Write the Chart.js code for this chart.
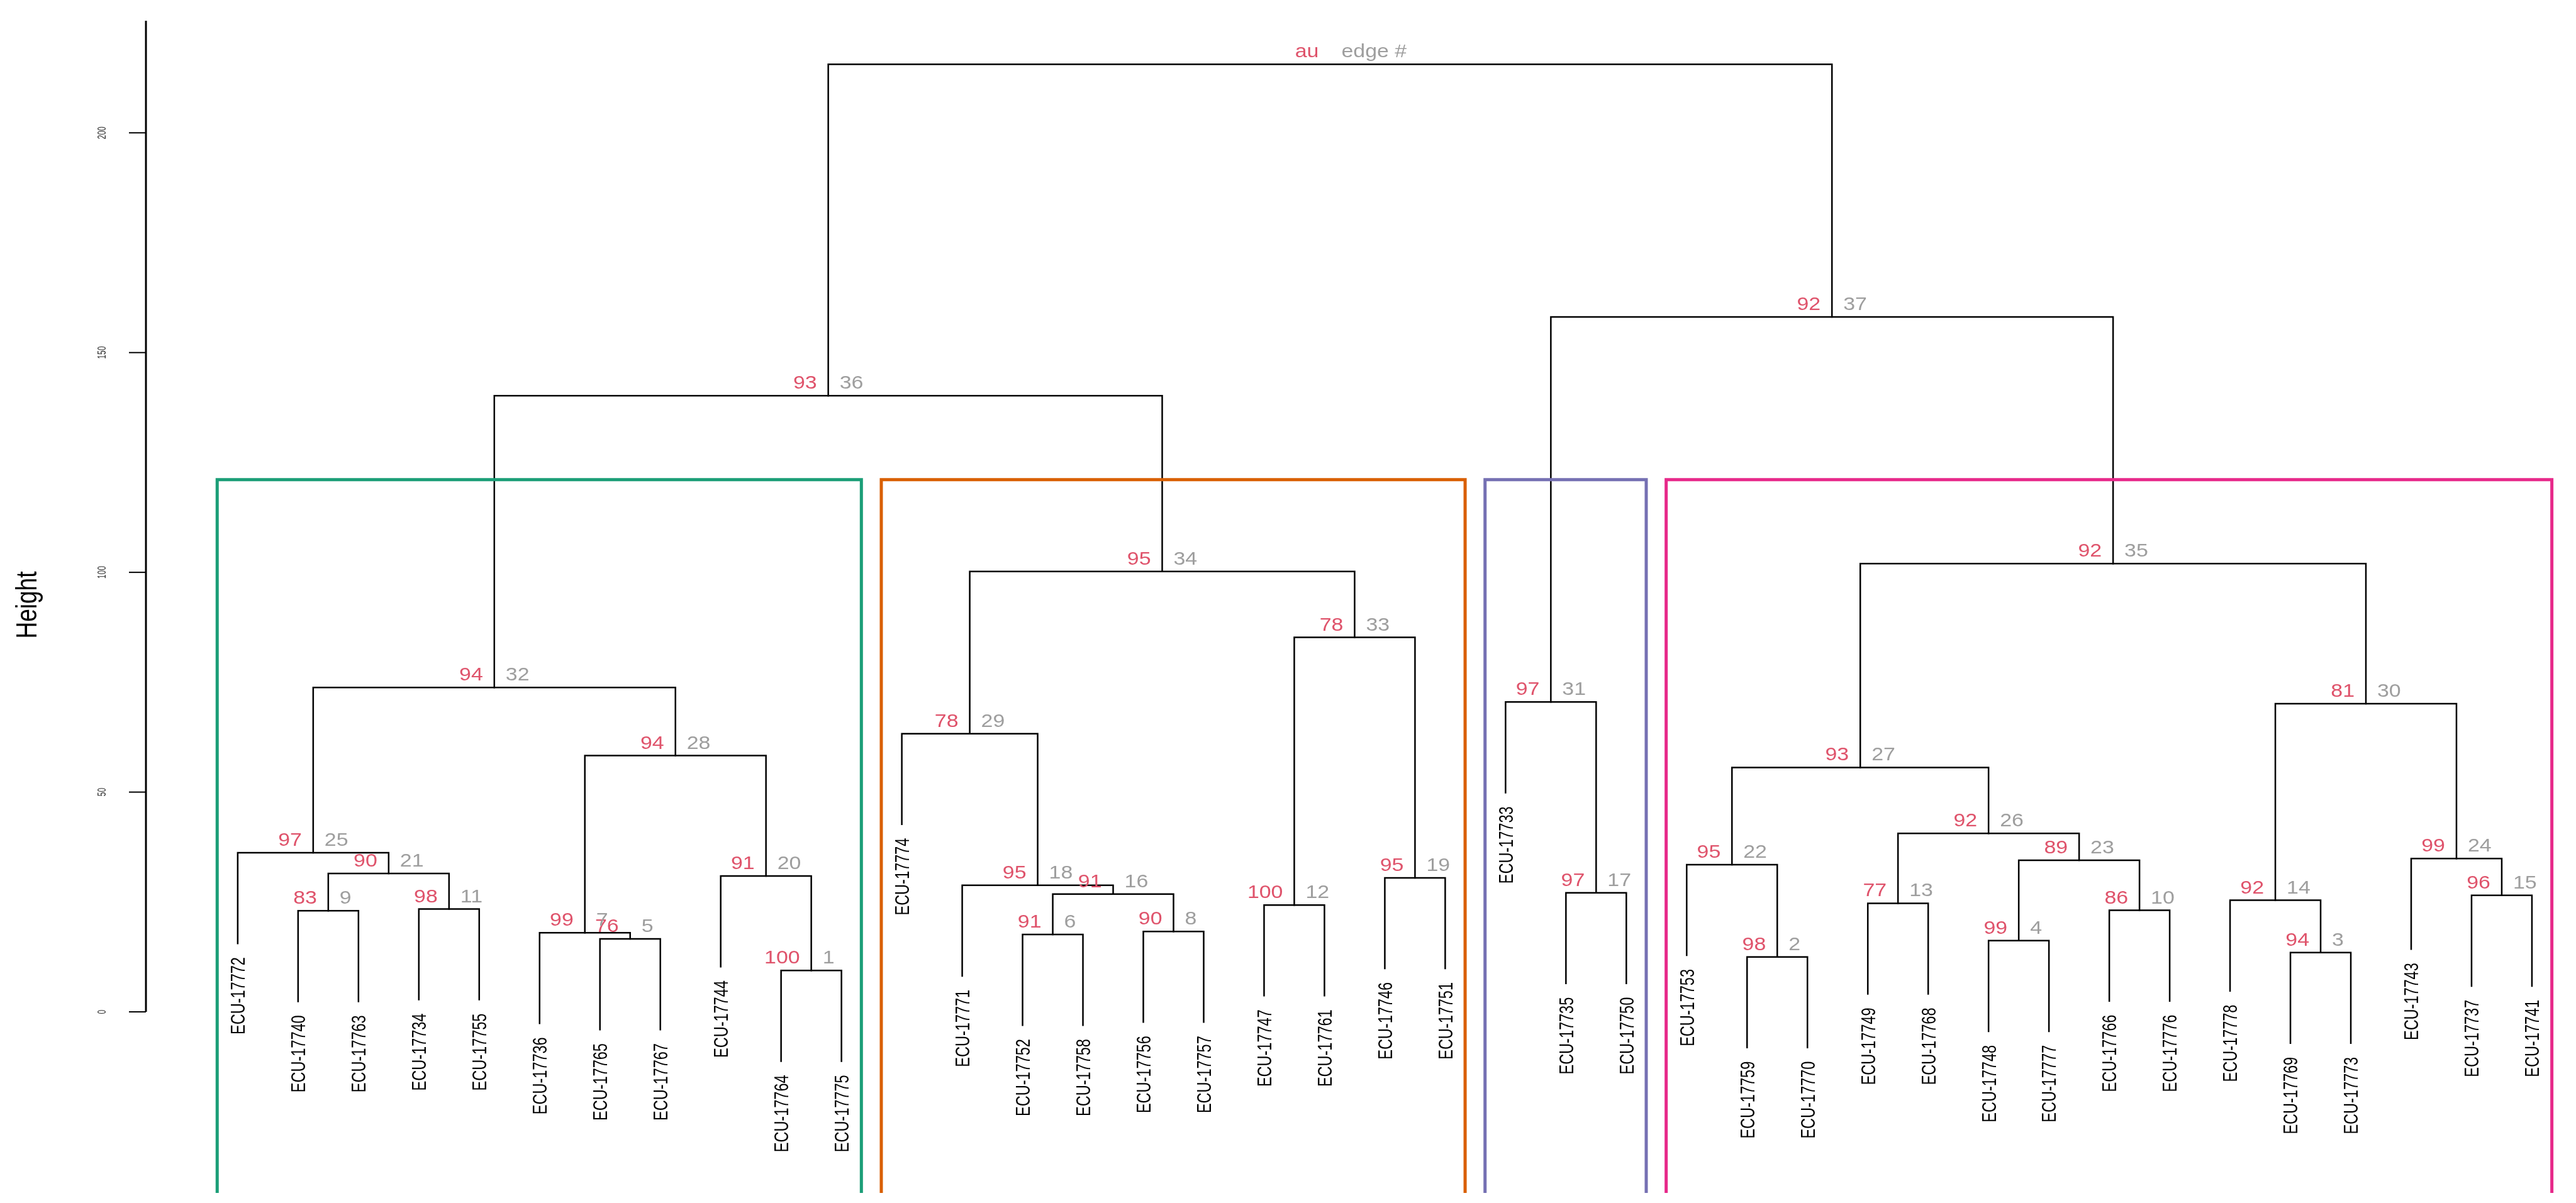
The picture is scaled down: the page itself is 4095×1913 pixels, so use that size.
<!DOCTYPE html>
<html>
<head>
<meta charset="utf-8">
<title>pvclust dendrogram</title>
<script src="https://cdn.jsdelivr.net/npm/chart.js@4.4.1/dist/chart.umd.min.js"></script>
<style>
  html, body { margin: 0; padding: 0; background: #ffffff; }
  #wrap { width: 4095px; height: 1913px; }
</style>
</head>
<body>
<div id="wrap"><canvas id="dendro" width="4095" height="1913"></canvas></div>
<script>
// ---- data: leaves in plotting order ----
const leafLabels = [
  'ECU-17772', 'ECU-17740', 'ECU-17763', 'ECU-17734', 'ECU-17755', 'ECU-17736', 'ECU-17765', 'ECU-17767',
  'ECU-17744', 'ECU-17764', 'ECU-17775', 'ECU-17774', 'ECU-17771', 'ECU-17752', 'ECU-17758', 'ECU-17756',
  'ECU-17757', 'ECU-17747', 'ECU-17761', 'ECU-17746', 'ECU-17751', 'ECU-17733', 'ECU-17735', 'ECU-17750',
  'ECU-17753', 'ECU-17759', 'ECU-17770', 'ECU-17749', 'ECU-17768', 'ECU-17748', 'ECU-17777', 'ECU-17766',
  'ECU-17776', 'ECU-17778', 'ECU-17769', 'ECU-17773', 'ECU-17743', 'ECU-17737', 'ECU-17741'
];

// merges (hclust style): negative = leaf position, positive = earlier merge / edge #
const mergeA = [-10, -26, -35, -30, -7, -14, -6, -16, -2, -32, -4, -18, -28, -34, -38, 6, -23, -13, -20,
  -9, 9, -25, 4, -37, -1, 13, 22, 7, -12, 14, -22, 25, 12, 29, 27, 32, 31, 36];
const mergeB = [-11, -27, -36, -31, -8, -15, 5, -17, -3, -33, -5, -19, -29, 3, -39, 8, -24, 16, -21,
  1, 11, 2, 10, 15, 21, 23, 26, 20, 18, 24, 17, 28, 19, 33, 30, 34, 35, 37];
const mergeHeight = [9.4, 12.5, 13.5, 16.2, 16.6, 17.6, 18.0, 18.3, 23.0, 23.1, 23.4, 24.3, 24.7, 25.4,
  26.5, 26.8, 27.1, 28.8, 30.5, 30.9, 31.5, 33.5, 34.5, 34.9, 36.2, 40.6, 55.6, 58.3, 63.3, 70.1, 70.5,
  73.8, 85.2, 100.2, 102.0, 140.2, 158.1, 215.6];
// AU p-values for edges 1..37 (root has none)
const auValues = [100, 98, 94, 99, 76, 91, 99, 90, 83, 86, 98, 100, 77, 92, 96, 91, 97, 95, 95, 91, 90,
  95, 89, 99, 97, 92, 93, 94, 78, 81, 97, 94, 78, 95, 92, 93, 92];
const yTicks = [0, 50, 100, 150, 200];
const clusterColors = ['#1B9E77', '#D95F02', '#7570B3', '#E7298A'];
const nClusters = clusterColors.length;

const AU_COL = '#DF536B';
const EDGE_COL = '#9E9E9E';
const FONT = '"Liberation Sans", Arial, sans-serif';

// ---- tree geometry in data units ----
const nMerge = mergeHeight.length;
const hang = 0.1 * (Math.max(...mergeHeight) - Math.min(...mergeHeight));
const nodeX = [];
const childX = c => (c < 0 ? -c : nodeX[c - 1]);
for (let i = 0; i < nMerge; i++) {
  nodeX[i] = (childX(mergeA[i]) + childX(mergeB[i])) / 2;
}
const leafEnd = [];
const treeSets = [];
for (let i = 0; i < nMerge; i++) {
  const h = mergeHeight[i];
  const yOf = c => {
    if (c < 0) { leafEnd[-c - 1] = h - hang; return h - hang; }
    return mergeHeight[c - 1];
  };
  const xa = childX(mergeA[i]), xb = childX(mergeB[i]);
  treeSets.push({
    data: [{ x: xa, y: yOf(mergeA[i]) }, { x: xa, y: h }, { x: xb, y: h }, { x: xb, y: yOf(mergeB[i]) }],
    borderColor: '#000000', borderWidth: 2.5, order: 1
  });
}

// ---- k = 4 cluster rectangles (like rect.hclust) ----
function leavesOf(c) {
  if (c < 0) return [-c];
  return leavesOf(mergeA[c - 1]).concat(leavesOf(mergeB[c - 1]));
}
let groups = [nMerge];
while (groups.length < nClusters) {
  const top = Math.max(...groups);
  const idx = groups.indexOf(top);
  groups.splice(idx, 1, mergeA[top - 1], mergeB[top - 1]);
}
const sortedH = mergeHeight.slice().sort((a, b) => b - a);
const rectTop = (sortedH[nClusters - 2] + sortedH[nClusters - 1]) / 2;
const Y_MIN = -41.2, Y_MAX = 225.5, X_MIN = -0.52, X_MAX = 39.73;
const rectSets = groups.map((g, n) => {
  const lv = leavesOf(g);
  const left = Math.min(...lv) - 1 + 0.66;
  const right = Math.max(...lv) + 0.33;
  return {
    data: [{ x: left, y: Y_MIN }, { x: left, y: rectTop }, { x: right, y: rectTop }, { x: right, y: Y_MIN }],
    borderColor: clusterColors[n], borderWidth: 5, order: 0
  };
});

// ---- text / axis plugin ----
const labelPlugin = {
  id: 'dendroLabels',
  afterDatasetsDraw(chart) {
    const ctx = chart.ctx;
    const xs = chart.scales.x, ys = chart.scales.y;
    const area = chart.chartArea;

    // y axis
    ctx.save();
    ctx.strokeStyle = '#000';
    ctx.lineWidth = 3;
    ctx.beginPath();
    ctx.moveTo(area.left, ys.getPixelForValue(0));
    ctx.lineTo(area.left, ys.getPixelForValue(Y_MAX));
    ctx.stroke();
    ctx.lineWidth = 2;
    yTicks.forEach(t => {
      const py = ys.getPixelForValue(t);
      ctx.beginPath();
      ctx.moveTo(area.left - 27, py);
      ctx.lineTo(area.left, py);
      ctx.stroke();
      ctx.save();
      ctx.translate(168, py);
      ctx.rotate(-Math.PI / 2);
      ctx.scale(1, 1.6);
      ctx.fillStyle = '#333';
      ctx.font = '12px ' + FONT;
      ctx.textAlign = 'center';
      ctx.textBaseline = 'alphabetic';
      ctx.fillText(String(t), 0, 0);
      ctx.restore();
    });
    // axis title
    ctx.save();
    ctx.translate(58, 962);
    ctx.rotate(-Math.PI / 2);
    ctx.scale(1, 1.24);
    ctx.fillStyle = '#000';
    ctx.font = '37px ' + FONT;
    ctx.textAlign = 'center';
    ctx.textBaseline = 'alphabetic';
    ctx.fillText('Height', 0, 0);
    ctx.restore();
    ctx.restore();

    // leaf labels
    ctx.save();
    ctx.fillStyle = '#000';
    ctx.font = '23.5px ' + FONT;
    leafLabels.forEach((lab, i) => {
      const px = xs.getPixelForValue(i + 1);
      const py = ys.getPixelForValue(leafEnd[i]) + 22;
      ctx.save();
      ctx.translate(px, py);
      ctx.rotate(-Math.PI / 2);
      ctx.scale(1, 1.35);
      ctx.textAlign = 'right';
      ctx.textBaseline = 'alphabetic';
      ctx.fillText(lab, 0, 8.4);
      ctx.restore();
    });
    ctx.restore();

    // au / edge # labels
    ctx.save();
    ctx.font = '30px ' + FONT;
    ctx.textBaseline = 'alphabetic';
    for (let i = 0; i < nMerge; i++) {
      const px = xs.getPixelForValue(nodeX[i]);
      const py = ys.getPixelForValue(mergeHeight[i]) - 11;
      const isRoot = i === nMerge - 1;
      const au = isRoot ? 'au' : String(auValues[i]);
      const ed = isRoot ? 'edge #' : String(i + 1);
      ctx.save();
      ctx.translate(px - 18, py);
      ctx.scale(1.13, 1);
      ctx.fillStyle = AU_COL;
      ctx.textAlign = 'right';
      ctx.fillText(au, 0, 0);
      ctx.restore();
      ctx.save();
      ctx.translate(px + 18, py);
      ctx.scale(1.13, 1);
      ctx.fillStyle = EDGE_COL;
      ctx.textAlign = 'left';
      ctx.fillText(ed, 0, 0);
      ctx.restore();
    }
    ctx.restore();
  }
};

new Chart(document.getElementById('dendro').getContext('2d'), {
  type: 'scatter',
  data: {
    datasets: treeSets.concat(rectSets).map(d => Object.assign({
      showLine: true, pointRadius: 0, pointHoverRadius: 0, fill: false, tension: 0,
      borderCapStyle: 'square', borderJoinStyle: 'miter'
    }, d))
  },
  options: {
    responsive: false,
    devicePixelRatio: 1,
    animation: false,
    layout: { padding: { left: 232, right: 0, top: 33, bottom: 16 } },
    plugins: { legend: { display: false }, tooltip: { enabled: false } },
    scales: {
      x: { type: 'linear', min: X_MIN, max: X_MAX, display: false },
      y: { type: 'linear', min: Y_MIN, max: Y_MAX, display: false }
    }
  },
  plugins: [labelPlugin]
});
</script>
</body>
</html>
